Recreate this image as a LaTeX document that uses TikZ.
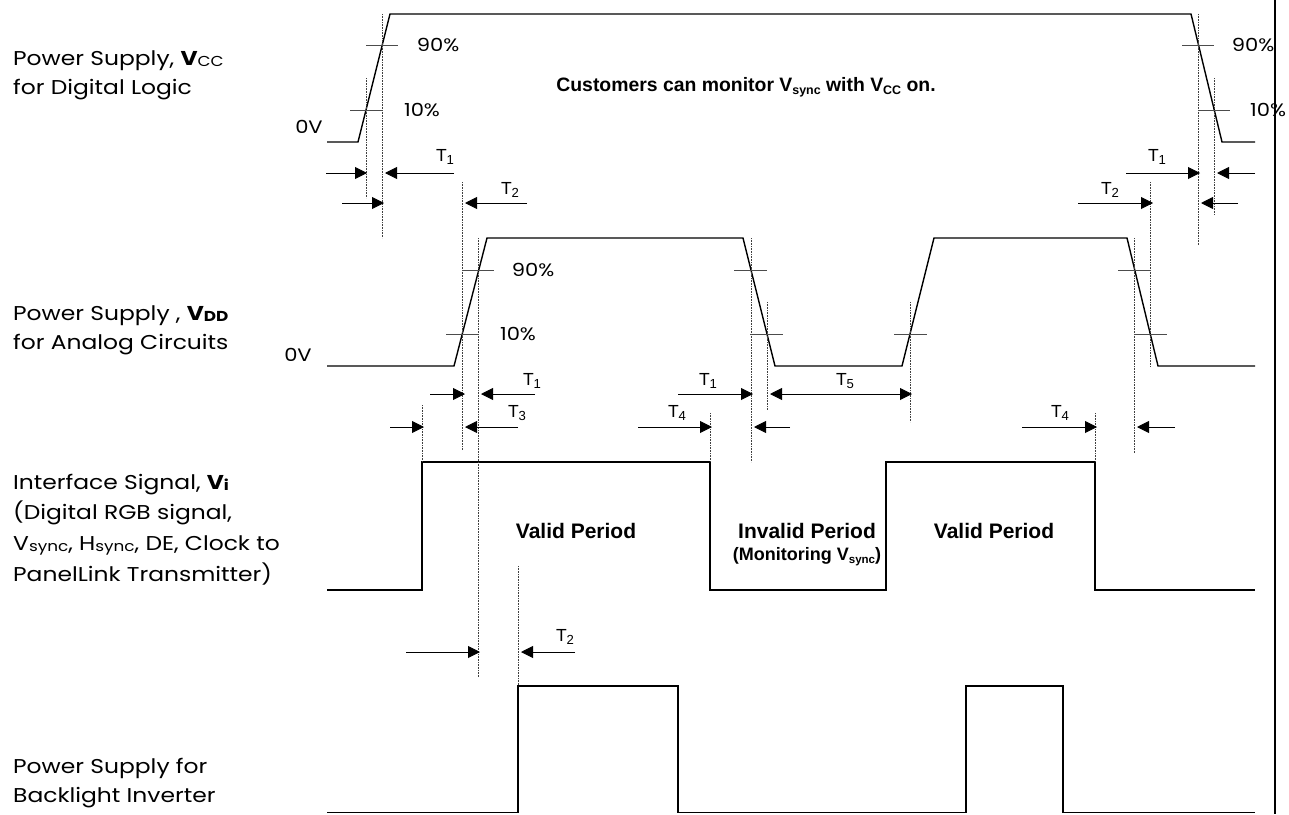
\documentclass[tikz,border=0pt]{standalone}
\usepackage{fontspec}
\setmainfont{Poppins}[FakeStretch=1.17]
\newfontfamily\arialf{Liberation Sans}
\usetikzlibrary{arrows.meta}
\newcommand\subtx[1]{\raisebox{-0.3ex}{\scalebox{0.64}{#1}}}
\newcommand\subcc[1]{\raisebox{-0.15ex}{\scalebox{0.72}{#1}}}
\newcommand\subt[1]{\raisebox{-0.25ex}{\scalebox{0.75}{#1}}}
\begin{document}
\begin{tikzpicture}[x=1pt,y=-1pt,
  sig/.style={line width=1.4pt, line join=miter},
  guide/.style={line width=0.6pt, densely dotted, black!75},
  tickl/.style={line width=0.9pt, black!70},
  arr/.style={line width=0.9pt, -{Triangle[length=12pt,width=12pt]}},
  darr/.style={line width=0.9pt, {Triangle[length=12pt,width=12pt]}-{Triangle[length=12pt,width=12pt]}},
  lbl/.style={anchor=base west, inner sep=0pt, font=\fontsize{20}{22}\selectfont},
  pct/.style={inner sep=0pt, font=\fontsize{18}{20}\selectfont},
  tl/.style={inner sep=0pt, font=\arialf\fontsize{17.5}{19}\selectfont},
  bl/.style={inner sep=0pt, font=\arialf\bfseries\fontsize{21}{23}\selectfont},
  sbl/.style={inner sep=0pt, font=\arialf\bfseries\fontsize{18}{19}\selectfont},
]
\useasboundingbox (0,0) rectangle (1289,814);
% border
\draw[line width=2pt] (1275,0) -- (1275,814);
% signals
\draw[sig] (327,142) -- (358,142) -- (390,14) -- (1191,14) -- (1222,142) -- (1255,142);
\draw[sig] (327,366) -- (454,366) -- (487,238) -- (743,238) -- (775,366) -- (902,366) -- (934,238) -- (1127,238) -- (1158,366) -- (1255,366);
\draw[sig] (327,590) -- (422,590) -- (422,462) -- (710,462) -- (710,590) -- (886,590) -- (886,462) -- (1095,462) -- (1095,590) -- (1255,590);
\draw[sig] (327,812.5) -- (518,812.5) -- (518,686) -- (678,686) -- (678,812.5) -- (966,812.5) -- (966,686) -- (1063,686) -- (1063,812.5) -- (1255,812.5);
% guides
\draw[guide] (366,78) -- (366,198);
\draw[guide] (382,14) -- (382,238);
\draw[guide] (462,182) -- (462,450);
\draw[guide] (478,238) -- (478,677);
\draw[guide] (1198,14) -- (1198,245);
\draw[guide] (1214,78) -- (1214,215);
\draw[guide] (1150,182) -- (1150,367);
\draw[guide] (751,238) -- (751,462);
\draw[guide] (767,302) -- (767,410);
\draw[guide] (910,302) -- (910,422);
\draw[guide] (1134,238) -- (1134,453);
\draw[guide] (422,405) -- (422,462);
\draw[guide] (710,413) -- (710,462);
\draw[guide] (1095,413) -- (1095,462);
\draw[guide] (518,566) -- (518,686);
% level ticks
\draw[tickl] (366,45) -- (398,45);
\draw[tickl] (350,110) -- (382,110);
\draw[tickl] (1182,45) -- (1214,45);
\draw[tickl] (1198,110) -- (1230,110);
\draw[tickl] (462,270) -- (494,270);
\draw[tickl] (446,334) -- (478,334);
\draw[tickl] (734,270) -- (767,270);
\draw[tickl] (750,334) -- (783,334);
\draw[tickl] (894,334) -- (927,334);
\draw[tickl] (1118,270) -- (1151,270);
\draw[tickl] (1134,334) -- (1167,334);
% timing arrows
\draw[arr] (326,173) -- (367,173);
\draw[arr] (454,173) -- (385,173);
\draw[arr] (1126,173) -- (1200,173);
\draw[arr] (1255,173) -- (1217,173);
\draw[arr] (342,203) -- (384,203);
\draw[arr] (527,203) -- (465,203);
\draw[arr] (1078,203) -- (1153,203);
\draw[arr] (1238,203) -- (1201,203);
\draw[arr] (430,394) -- (465,394);
\draw[arr] (535,394) -- (481,394);
\draw[arr] (678,394) -- (753,394);
\draw[darr] (770,394) -- (912,394);
\draw[arr] (390,427) -- (424,427);
\draw[arr] (518,427) -- (465,427);
\draw[arr] (638,427) -- (712,427);
\draw[arr] (790,427) -- (754,427);
\draw[arr] (1022,427) -- (1097,427);
\draw[arr] (1175,427) -- (1137,427);
\draw[arr] (406,652) -- (480,652);
\draw[arr] (575,652) -- (521,652);
% T labels
\node[tl] (t1a) at (445,157) {T\subt{1}};
\node[tl] (t2a) at (510,190) {T\subt{2}};
\node[tl] (t1b) at (1157,157) {T\subt{1}};
\node[tl] (t2b) at (1110,190) {T\subt{2}};
\node[tl] (t1c) at (532,381) {T\subt{1}};
\node[tl] (t3) at (517,413) {T\subt{3}};
\node[tl] (t1d) at (708,381) {T\subt{1}};
\node[tl] (t5) at (845,381) {T\subt{5}};
\node[tl] (t4a) at (677,413) {T\subt{4}};
\node[tl] (t4b) at (1060,413) {T\subt{4}};
\node[tl] (t2c) at (565,637) {T\subt{2}};
% percent labels
\node[pct] (p1) at (438,45) {90\%};
\node[pct] (p2) at (422,110) {10\%};
\node[pct] (p3) at (1253,45) {90\%};
\node[pct] (p4) at (1268,110) {10\%};
\node[pct] (p5) at (533,270) {90\%};
\node[pct] (p6) at (518,334) {10\%};
\node[pct] (z1) at (309,127) {0V};
\node[pct] (z2) at (298,355) {0V};
% bold notes
\node[bl, font=\arialf\bfseries\fontsize{19.4}{21}\selectfont] (cust) at (746,87) {Customers can monitor V\subtx{sync} with V\subtx{CC} on.};
\node[bl] (v1) at (576,531) {Valid Period};
\node[bl] (inv) at (807,531) {Invalid Period};
\node[sbl] (mon) at (807,557) {(Monitoring V\subtx{sync})};
\node[bl] (v2) at (994,531) {Valid Period};
% left labels
\node[lbl] (l1) at (13,65) {Power Supply, \textbf{V}\subcc{CC}};
\node[lbl] (l2) at (13,94) {for Digital Logic};
\node[lbl] (l3) at (13,320) {Power Supply , \textbf{V\subcc{DD}}};
\node[lbl] (l4) at (13,349) {for Analog Circuits};
\node[lbl] (l5) at (13,489) {Interface Signal, \textbf{V\subcc{i}}};
\node[lbl] (l6) at (13,519) {(Digital RGB signal,};
\node[lbl] (l7) at (13,550) {V\subcc{sync}, H\subcc{sync}, DE, Clock to};
\node[lbl] (l8) at (13,581) {PanelLink Transmitter)};
\node[lbl] (l9) at (13,773) {Power Supply for};
\node[lbl] (l10) at (13,802) {Backlight Inverter};
\end{tikzpicture}
\end{document}
